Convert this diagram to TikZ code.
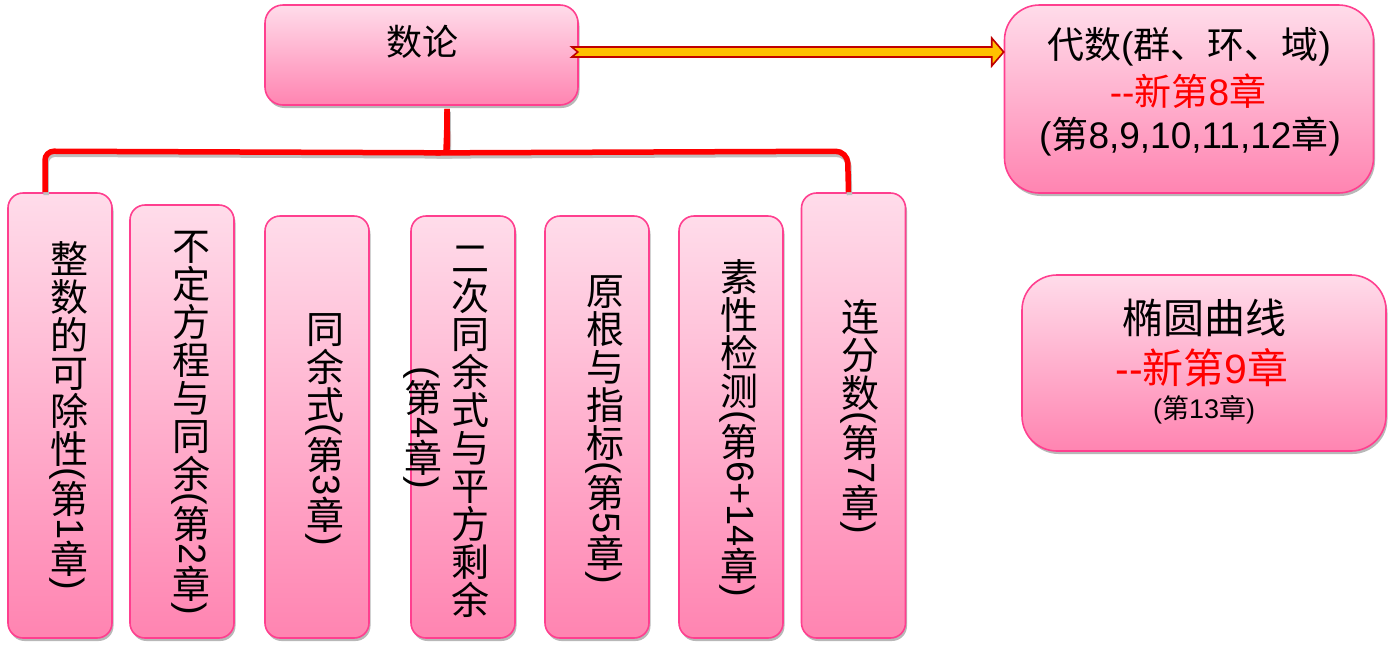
\documentclass[tikz,border=0pt]{standalone}
\usepackage{fontspec}
\setmainfont{Liberation Sans}
\newfontfamily\cjk{Noto Sans CJK SC}
\usetikzlibrary{shadows,calc}
\definecolor{ptop}{HTML}{FFDCEA}
\definecolor{pbot}{HTML}{FF84B1}
\definecolor{pborder}{HTML}{FF3F8F}
\definecolor{arrfill}{HTML}{FFC000}
\definecolor{arrline}{HTML}{C00000}
\makeatletter
\newcommand\vstk[1]{\vstk@a#1\relax}
\def\vstk@a#1{\ifx\relax#1\else\vstk@c{#1}\expandafter\vstk@a\fi}
\newcommand\vstk@c[1]{\ifnum`#1<256 #1\else\raisebox{-0.17em}{\rotatebox{90}{\raisebox{0pt}[0.88em][0.12em]{\cjk #1}}}\fi}
\makeatother
\tikzset{
  pbox/.style={draw=pborder, line width=1.6pt, top color=ptop, bottom color=pbot,
    inner sep=0pt, drop shadow={shadow xshift=1.5pt, shadow yshift=-3pt, opacity=0.28, fill=black}},
  colbox/.style={pbox, rounded corners=15pt, minimum width=104pt},
  vlabel/.style={rotate=-90, inner sep=0pt, font=\fontsize{38}{40}\selectfont},
  conn/.style={draw=red, line width=5.5pt,
    preaction={draw=black!25, line width=5.5pt, transform canvas={xshift=1pt,yshift=-3pt}}},
  bigarrow/.style={fill=arrfill, draw=arrline, line width=1.6pt, line join=miter},
}
\begin{document}
\begin{tikzpicture}[x=1pt,y=-1pt]
\useasboundingbox (0,0) rectangle (1394,649);
% top boxes
\node[pbox, rounded corners=18pt, minimum width=313pt, minimum height=100pt] (num) at (421.5,55) {};
\node[font=\cjk\fontsize{36}{40}\selectfont] (numt) at (422,42) {数论};
\node[pbox, rounded corners=35pt, minimum width=369pt, minimum height=188pt] (alg) at (1189,99) {};
\node[font=\fontsize{37}{40}\selectfont] (a1) at (1189,47) {{\cjk 代数}({\cjk 群、环、域})};
\node[font=\fontsize{37}{40}\selectfont, text=red] (a2) at (1188,91) {-{}-{\cjk 新第}8{\cjk 章}};
\node[font=\fontsize{37}{40}\selectfont] (a3) at (1190,137) {({\cjk 第}8,9,10,11,12{\cjk 章})};
\node[pbox, rounded corners=35pt, minimum width=364pt, minimum height=176pt] (ell) at (1204,363) {};
\node[font=\cjk\fontsize{41}{44}\selectfont] (e1) at (1204,318) {椭圆曲线};
\node[font=\fontsize{41}{44}\selectfont, text=red] (e2) at (1202,368) {-{}-{\cjk 新第}9{\cjk 章}};
\node[font=\fontsize{27}{30}\selectfont] (e3) at (1204,410) {({\cjk 第}13{\cjk 章})};
% column boxes
\node[colbox, minimum height=445pt] (b1) at (60,415.5) {};
\node[colbox, minimum height=433pt] (b2) at (182,421.5) {};
\node[colbox, minimum height=422pt] (b3) at (317,427) {};
\node[colbox, minimum height=422pt] (b4) at (463,427) {};
\node[colbox, minimum height=422pt] (b5) at (597,427) {};
\node[colbox, minimum height=422pt] (b6) at (731,427) {};
\node[colbox, minimum height=445pt] (b7) at (853.5,415.5) {};
\node[vlabel] (t1) at (69,415) {\vstk{整数的可除性(第1章)}};
\node[vlabel] (t2) at (191,421) {\vstk{不定方程与同余(第2章)}};
\node[vlabel] (t3) at (325,428) {\vstk{同余式(第3章)}};
\node[vlabel] (t4a) at (470,429) {\vstk{二次同余式与平方剩余}};
\node[vlabel] (t4b) at (423,428) {\vstk{(第4章)}};
\node[vlabel] (t5) at (605,428) {\vstk{原根与指标(第5章)}};
\node[vlabel] (t6) at (739,428) {\vstk{素性检测(第6+14章)}};
\node[vlabel] (t7) at (860,416) {\vstk{连分数(第7章)}};
% brace connector
\coordinate (tip) at ($(num.south)+(25.5,3)$);
\draw[conn, rounded corners=9pt] ([xshift=-15pt]b1.north) -- ($(b1.north)+(-15,-41)$) -- ($(tip)+(-9,44)$)
  [sharp corners] .. controls ($(tip)+(-2,44)$) and ($(tip)+(0,36)$) .. (tip);
\draw[conn, rounded corners=12pt] ([xshift=-5pt]b7.north) -- ($(b7.north)+(-6,-41)$) -- ($(tip)+(9,44)$)
  [sharp corners] .. controls ($(tip)+(2,44)$) and ($(tip)+(0,36)$) .. (tip);
% arrow
\coordinate (as) at ($(num.east)+(-1,-3)$);
\coordinate (ae) at (as -| alg.west);
\filldraw[bigarrow] ($(as)+(-6,-5)$) -- ($(ae)+(-12,-5)$) -- ($(ae)+(-12,-14)$) -- (ae)
  -- ($(ae)+(-12,14)$) -- ($(ae)+(-12,5)$) -- ($(as)+(-6,5)$) -- (as) -- cycle;
\end{tikzpicture}
\end{document}
